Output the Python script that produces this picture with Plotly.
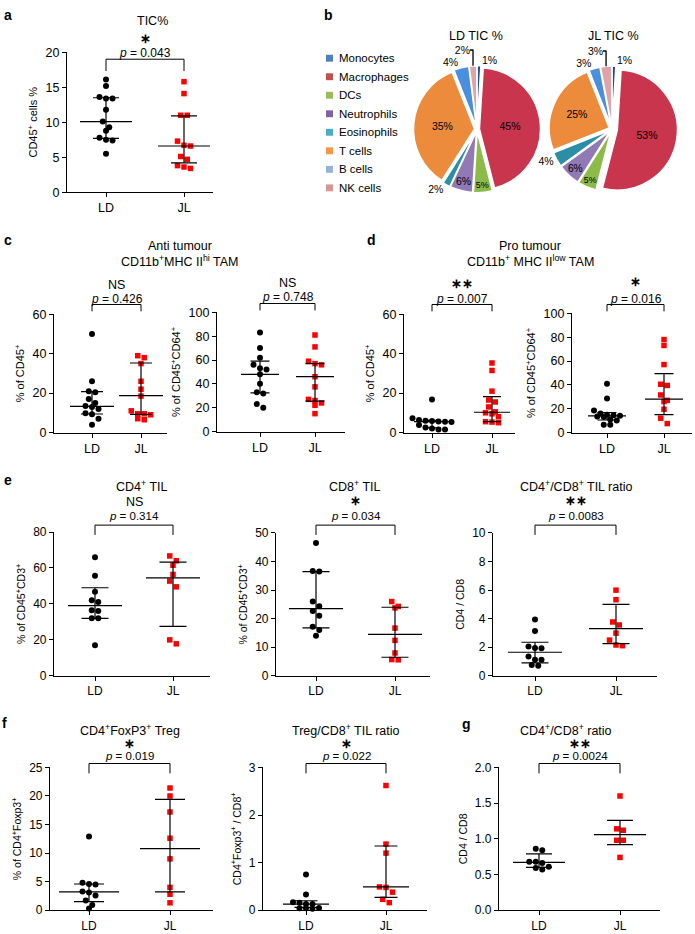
import plotly.graph_objects as go

W, H = 695, 934
FONT = "Liberation Sans, Arial, sans-serif"
groups = ["LD", "JL"]

# ---------------- data ----------------
# a: TIC%
a_LD = [16.1, 15.2, 13.6, 13.4, 13.4, 11.8, 10.1, 9.3, 8.8, 7.8, 7.5, 7.4, 5.5]
a_JL = [15.8, 14.1, 11.0, 11.0, 7.3, 6.7, 6.6, 5.1, 4.7, 3.8, 3.6, 3.4]
a_med, a_q1, a_q3 = [10.1, 6.6], [7.7, 4.2], [13.5, 10.9]

# b: pies
cell_types = ["Monocytes", "Macrophages", "DCs", "Neutrophils", "Eosinophils", "T cells", "B cells", "NK cells"]
ld_tic = [1, 45, 5, 6, 2, 35, 4, 2]
jl_tic = [1, 53, 5, 6, 4, 25, 3, 3]

# c: anti tumour TAM
cL_LD = [50, 26, 21, 20.5, 17, 15, 13.5, 13, 12, 9.8, 9.3, 7, 4]
cL_JL = [39, 38, 35, 26, 22, 18.5, 11, 9.5, 9.5, 9, 7, 6.5]
cL_med, cL_q1, cL_q3 = [13.3, 18.7], [9.4, 9.2], [20.8, 35.3]
cR_LD = [83, 70, 62, 56, 53, 52, 48, 40, 33, 32, 23, 20]
cR_JL = [81, 71, 59, 57, 56, 46, 37.5, 27, 26, 24, 22, 15]
cR_med, cR_q1, cR_q3 = [48, 46], [32.5, 25.5], [59, 57]

# d: pro tumour TAM
dL_LD = [16.8, 7.2, 6.3, 6.0, 5.8, 5.6, 5.5, 5.3, 3.8, 2.5, 2.0, 1.5, 1.5]
dL_JL = [35.3, 31.5, 21, 16.5, 15.5, 13, 10.5, 10, 9.5, 8, 5.5, 5.3, 5]
dL_med, dL_q1, dL_q3 = [5.5, 10.3], [2.4, 5.5], [6.2, 18.2]
dR_LD = [41, 28.5, 18.5, 16, 15, 14.5, 14, 13.5, 13, 11, 10, 6.5, 6.5]
dR_JL = [78, 73, 57, 40.5, 39.5, 31.5, 27, 26, 19.5, 12, 7.5]
dR_med, dR_q1, dR_q3 = [14, 28], [10.5, 15], [16.8, 49.5]

# e: TIL
eL_LD = [66, 55.7, 46.8, 42, 41, 36.5, 36, 32, 32, 17]
eL_JL = [66.7, 64, 61.5, 56.4, 52.7, 49.5, 20, 17.8]
eL_med, eL_q1, eL_q3 = [39, 54.5], [32, 27.5], [49, 63.3]
eM_LD = [46.5, 36.7, 36.5, 26, 24.4, 22.7, 21, 17.2, 16, 14]
eM_JL = [26, 24.3, 23.8, 16.7, 12.4, 8, 5.7, 5.6]
eM_med, eM_q1, eM_q3 = [23.5, 14.5], [16.8, 6.5], [36.5, 24]
eR_LD = [3.95, 3.13, 2.05, 1.95, 1.93, 1.36, 1.13, 1.12, 0.76, 0.71]
eR_JL = [6.0, 5.33, 3.77, 3.56, 2.99, 2.5, 2.16, 2.11]
eR_med, eR_q1, eR_q3 = [1.65, 3.3], [0.9, 2.25], [2.35, 5.0]

# f: Treg
fL_LD = [12.9, 4.8, 4.6, 4.5, 3.3, 3.1, 2.6, 1.7, 0.9, 0.3]
fL_JL = [21.4, 20, 17.2, 12.6, 9, 4, 2.8, 1.3]
fL_med, fL_q1, fL_q3 = [3.2, 10.8], [1.5, 3.2], [4.6, 19.4]
fM_LD = [0.75, 0.33, 0.17, 0.16, 0.13, 0.13, 0.05, 0.04, 0.04, 0.03]
fM_JL = [2.62, 1.39, 1.2, 0.49, 0.48, 0.38, 0.23, 0.16]
fM_med, fM_q1, fM_q3 = [0.13, 0.49], [0.06, 0.27], [0.2, 1.35]

# g: CD4/CD8 ratio
g_LD = [0.86, 0.84, 0.68, 0.68, 0.66, 0.61, 0.59, 0.57]
g_JL = [1.6, 1.14, 1.12, 0.98, 0.98, 0.74]
g_med, g_q1, g_q3 = [0.67, 1.06], [0.6, 0.92], [0.79, 1.26]

# ---------------- layout helpers ----------------
def fx(px):
    return px / W

def fy(py):
    return 1 - py / H

# box = (x0, x1, xLD, xJL, ytop, ybot)  in pixels
panels = [
    dict(ld=a_LD, jl=a_JL, med=a_med, q1=a_q1, q3=a_q3, ymax=20, dtick=5,
         ytitle="CD45<sup>+</sup> cells %", box=(67, 213, 106, 184, 46, 188), mhw=26,
         sig="*", sig_y=32, p="0.043", p_y=47, br=(53, 65), fs=12.5),
    dict(ld=cL_LD, jl=cL_JL, med=cL_med, q1=cL_q1, q3=cL_q3, ymax=60, dtick=20,
         ytitle="% of CD45<sup>+</sup>", box=(54, 167, 92, 141, 312, 432), mhw=22,
         sig="NS", sig_y=282, p="0.426", p_y=296, br=(302, 309), fs=12.5),
    dict(ld=cR_LD, jl=cR_JL, med=cR_med, q1=cR_q1, q3=cR_q3, ymax=100, dtick=20,
         ytitle="% of CD45<sup>+</sup>CD64<sup>+</sup>", box=(217, 345, 260, 315, 310, 431), mhw=19,
         sig="NS", sig_y=280, p="0.748", p_y=294, br=(301, 308), fs=12.5),
    dict(ld=dL_LD, jl=dL_JL, med=dL_med, q1=dL_q1, q3=dL_q3, ymax=60, dtick=20,
         ytitle="% of CD45<sup>+</sup>", box=(404, 515, 432, 492, 312, 432), mhw=18,
         sig="**", sig_y=281, p="0.007", p_y=296, br=(302, 309), fs=12.5),
    dict(ld=dR_LD, jl=dR_JL, med=dR_med, q1=dR_q1, q3=dR_q3, ymax=100, dtick=20,
         ytitle="% of CD45<sup>+</sup>CD64<sup>+</sup>", box=(572, 692, 607, 664, 311, 432), mhw=19,
         sig="*", sig_y=279, p="0.016", p_y=296, br=(302, 309), fs=12.5),
    dict(ld=eL_LD, jl=eL_JL, med=eL_med, q1=eL_q1, q3=eL_q3, ymax=80, dtick=20,
         ytitle="% of CD45<sup>+</sup>CD3<sup>+</sup>", box=(54, 210, 95, 173, 533, 679), mhw=27,
         sig="NS", sig_y=503, p="0.314", p_y=517, br=(526, 536), fs=12,
         title="CD4<sup>+</sup> TIL", title_xy=(141, 486)),
    dict(ld=eM_LD, jl=eM_JL, med=eM_med, q1=eM_q1, q3=eM_q3, ymax=50, dtick=10,
         ytitle="% of CD45<sup>+</sup>CD3<sup>+</sup>", box=(276, 430, 316, 395, 534, 679), mhw=27,
         sig="*", sig_y=502, p="0.034", p_y=517, br=(526, 536), fs=12,
         title="CD8<sup>+</sup> TIL", title_xy=(354, 486)),
    dict(ld=eR_LD, jl=eR_JL, med=eR_med, q1=eR_q1, q3=eR_q3, ymax=10, dtick=2,
         ytitle="CD4 / CD8", box=(493, 657, 535, 616, 534, 679), mhw=27,
         sig="**", sig_y=502, p="0.0083", p_y=517, br=(526, 536), fs=12,
         title="CD4<sup>+</sup>/CD8<sup>+</sup> TIL ratio", title_xy=(576, 486)),
    dict(ld=fL_LD, jl=fL_JL, med=fL_med, q1=fL_q1, q3=fL_q3, ymax=25, dtick=5,
         ytitle="% of CD4<sup>+</sup>Foxp3<sup>+</sup>", box=(50, 213, 89, 170, 772, 917), mhw=30,
         sig="*", sig_y=748, p="0.019", p_y=760, br=(768, 778), fs=12,
         title="CD4<sup>+</sup>FoxP3<sup>+</sup> Treg", title_xy=(130, 734)),
    dict(ld=fM_LD, jl=fM_JL, med=fM_med, q1=fM_q1, q3=fM_q3, ymax=3, dtick=1,
         ytitle="CD4<sup>+</sup>Foxp3<sup>+</sup> / CD8<sup>+</sup>", box=(263, 427, 306, 386, 772, 917), mhw=23,
         sig="*", sig_y=748, p="0.022", p_y=760, br=(768, 778), fs=12,
         title="Treg/CD8<sup>+</sup> TIL ratio", title_xy=(346, 734)),
    dict(ld=g_LD, jl=g_JL, med=g_med, q1=g_q1, q3=g_q3, ymax=2.0, dtick=0.5,
         ytitle="CD4 / CD8", box=(499, 660, 539, 620, 772, 917), mhw=26,
         sig="**", sig_y=748, p="0.0024", p_y=760, br=(768, 778), fs=12, tickformat=".1f",
         title="CD4<sup>+</sup>/CD8<sup>+</sup> ratio", title_xy=(566, 734)),
]


def swarm(values, ymax, hpx, d=6.5):
    """Prism-like horizontal spread (pixel offsets) for nearby values."""
    order = sorted(range(len(values)), key=lambda i: -values[i])
    pys = [values[i] / ymax * hpx for i in range(len(values))]
    bins, cur = [], []
    for i in order:
        if cur and (pys[cur[0]] - pys[i]) < d * 0.9:
            cur.append(i)
        else:
            if cur:
                bins.append(cur)
            cur = [i]
    if cur:
        bins.append(cur)
    offs = [0.0] * len(values)
    for b in bins:
        n = len(b)
        for k, i in enumerate(b):
            offs[i] = (k - (n - 1) / 2) * d
    return offs


fig = go.Figure()
layout = dict(
    width=W, height=H, margin=dict(l=0, r=0, t=0, b=0),
    paper_bgcolor="white", plot_bgcolor="white",
    font=dict(family=FONT, color="black", size=11),
    showlegend=False,
)
annotations = []
shapes = []


def ann(text, xpx, ypx, size=11, xanchor="center", **kw):
    annotations.append(dict(text=text, x=fx(xpx), y=fy(ypx), xref="paper", yref="paper",
                            xanchor=xanchor, yanchor="middle", showarrow=False,
                            font=dict(size=size, family=FONT, color="black"), **kw))


for n, p in enumerate(panels, start=1):
    x0, x1, xLD, xJL, ytop, ybot = p["box"]
    sp = xJL - xLD
    hpx = ybot - ytop
    ax = "" if n == 1 else str(n)
    layout["xaxis" + ax] = dict(
        domain=[fx(x0), fx(x1)], range=[(x0 - xLD) / sp, (x1 - xLD) / sp],
        anchor="y" + ax, tickvals=[0, 1], ticktext=groups, showline=True, linecolor="black",
        linewidth=1.2, ticks="outside", ticklen=4, tickwidth=1.2, tickcolor="black",
        showgrid=False, zeroline=False, fixedrange=True, tickfont=dict(size=p["fs"]))
    layout["yaxis" + ax] = dict(
        domain=[fy(ybot), fy(ytop)], range=[0, p["ymax"]], anchor="x" + ax,
        tick0=0, dtick=p["dtick"], tickformat=p.get("tickformat", ""),
        showline=True, linecolor="black", linewidth=1.2, ticks="outside", ticklen=4,
        tickwidth=1.2, tickcolor="black", showgrid=False, zeroline=False, fixedrange=True,
        tickfont=dict(size=p["fs"]),
        title=dict(text=p["ytitle"], font=dict(size=p["fs"] - 1.5), standoff=5))
    for gi, (vals, col, sym, sz) in enumerate([(p["ld"], "black", "circle", 6),
                                               (p["jl"], "#ff0000", "square", 5.5)]):
        offs = swarm(vals, p["ymax"], hpx)
        fig.add_trace(go.Scatter(
            x=[gi + o / sp for o in offs], y=vals, mode="markers",
            marker=dict(color=col, symbol=sym, size=sz, line=dict(width=0)),
            xaxis="x" + ax, yaxis="y" + ax, cliponaxis=False, showlegend=False,
            hoverinfo="y"))
    for gi in range(2):
        m = p["mhw"] / sp
        c = 0.5 * m
        med, q1, q3 = p["med"][gi], p["q1"][gi], p["q3"][gi]
        fig.add_trace(go.Scatter(
            x=[gi - m, gi + m, None, gi - c, gi + c, None, gi - c, gi + c, None, gi, gi],
            y=[med, med, None, q1, q1, None, q3, q3, None, q1, q3],
            mode="lines", line=dict(color="black", width=1.2),
            xaxis="x" + ax, yaxis="y" + ax, cliponaxis=False, showlegend=False,
            hoverinfo="skip"))
    # bracket + annotations
    bt, bb = p["br"]
    shapes.append(dict(type="path", xref="paper", yref="paper",
                       path=f"M {fx(xLD)},{fy(bb)} L {fx(xLD)},{fy(bt)} L {fx(xJL)},{fy(bt)} L {fx(xJL)},{fy(bb)}",
                       line=dict(color="black", width=1)))
    xc = (xLD + xJL) / 2
    ann(f"<i>p</i> = {p['p']}", xc, p["p_y"], size=p["fs"] - 0.5)
    if p["sig"] == "NS":
        ann("NS", xc, p["sig_y"], size=12.5)
    else:
        # asterisk operator glyph sits on the text centre line
        ann("<b>" + "\u2217" * len(p["sig"]) + "</b>", xc, p["sig_y"], size=12.5)
    if "title" in p:
        ann(p["title"], p["title_xy"][0], p["title_xy"][1], size=12.5)

# panel a title
ann("TIC%", 152, 14, size=12.5)
# c and d titles
ann("Anti tumour", 180, 243, size=12.5)
ann("CD11b<sup>+</sup>MHC II<sup>hi</sup> TAM", 180, 258, size=12.5)
ann("Pro tumour", 530, 243, size=12.5)
ann("CD11b<sup>+</sup> MHC II<sup>low</sup> TAM", 530, 258, size=12.5)
# pie titles
ann("LD TIC %", 476, 29, size=12.5)
ann("JL TIC %", 613, 29, size=12.5)

# panel letters
for letter, xp, yp in [("a", 2, 8), ("b", 322, 8), ("c", 2, 237), ("d", 365, 237),
                       ("e", 2, 480), ("f", 0, 727), ("g", 460, 728)]:
    ann(f"<b>{letter}</b>", xp, yp, size=14, xanchor="left")

# ---------------- pies ----------------
pie_colors = ["#1f4f8f", "#c9354c", "#8cbb4a", "#9079b5", "#2a8fa6", "#ec8b3c", "#4a8ee0", "#e0a3a6"]
legend_colors = ["#4f7fbd", "#c0504d", "#9bbb59", "#8064a2", "#4bacc6", "#f79646", "#95b3d7", "#d99694"]
pos_small = ["outside", "inside", "inside", "inside", "outside", "inside", "outside", "outside"]
pies = [
    (ld_tic, 477, 62, [0.04] * 8),
    (jl_tic, 612, 61, [0.05, 0.09, 0.05, 0.05, 0.05, 0.05, 0.05, 0.05]),
]
for vals, cx, r, pulls in pies:
    half = r * (1 + max(pulls))
    fig.add_trace(go.Pie(
        labels=cell_types, values=vals, sort=False, direction="clockwise", rotation=0,
        marker=dict(colors=pie_colors, line=dict(color="white", width=1.5)),
        pull=pulls, texttemplate="%{value}%", textposition=pos_small,
        textfont=dict(size=10.5, color="black", family=FONT), insidetextorientation="horizontal",
        domain=dict(x=[fx(cx - half), fx(cx + half)], y=[fy(124 + half), fy(124 - half)]),
        showlegend=False, hoverinfo="label+value"))

# manual legend (square swatch + label)
for k, (lab, col) in enumerate(zip(cell_types, legend_colors)):
    yc = 52 + k * 18.8
    shapes.append(dict(type="rect", xref="paper", yref="paper",
                       x0=fx(326), x1=fx(333), y0=fy(yc + 3.5), y1=fy(yc - 3.5),
                       fillcolor=col, line=dict(width=0)))
    ann(lab, 337, yc, size=11.5, xanchor="left")

layout["annotations"] = annotations
layout["shapes"] = shapes
fig.update_layout(**layout)
fig.write_html("out.html", config={"displayModeBar": False},
               post_script="document.body.style.margin='0px';")
